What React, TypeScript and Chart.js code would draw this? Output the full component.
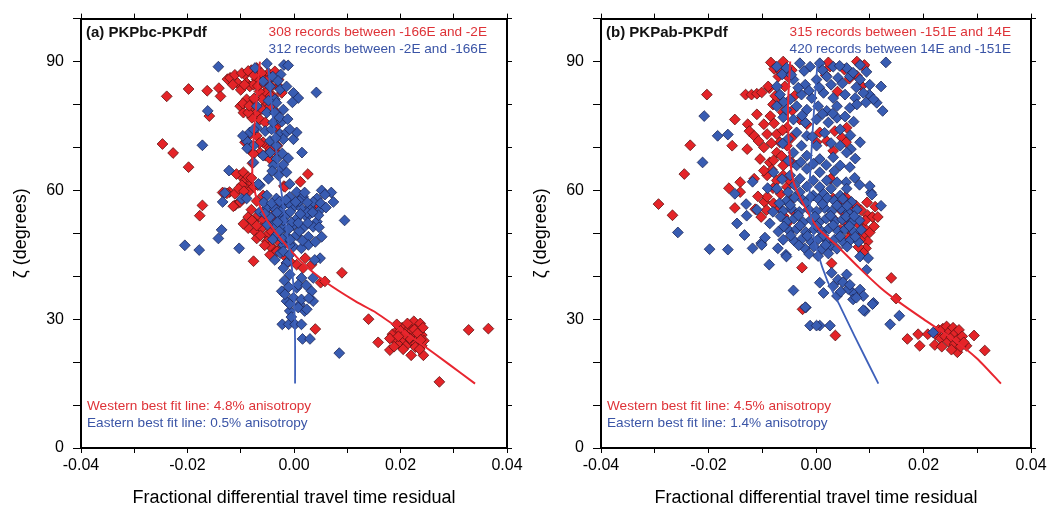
import React, { useEffect, useRef } from "react";
import { Chart, registerables } from "chart.js";
Chart.register(...registerables);

const FONT = '"Liberation Sans", Arial, Helvetica, sans-serif';

// ---------- tick labels ----------
const X_TICK_VALUES = [-0.04, -0.02, 0, 0.02, 0.04];
const X_TICK_LABELS = ["-0.04", "-0.02", "0.00", "0.02", "0.04"];
const Y_TICK_VALUES = [0, 30, 60, 90];
const Y_TICK_LABELS = ["0", "30", "60", "90"];

const X_TITLE = "Fractional differential travel time residual";
const Y_TITLE = "ζ (degrees)";

// ---------- panel (a) PKPbc-PKPdf ----------
const A_TITLE = "(a) PKPbc-PKPdf";
const A_WEST_LABEL = "308 records between -166E and -2E";
const A_EAST_LABEL = "312 records between -2E and -166E";
const A_WEST_FIT_LABEL = "Western best fit line: 4.8% anisotropy";
const A_EAST_FIT_LABEL = "Eastern best fit line: 0.5% anisotropy";

const A_WEST: [number, number][] = [
  [-0.0239, 81.9], [-0.0198, 83.6], [-0.0163, 83.2], [-0.0141, 83.8], [-0.0138, 81.9], [-0.0125, 85.9],
  [-0.0159, 77.3], [-0.0247, 70.8], [-0.0227, 68.7], [-0.0198, 65.4], [-0.0172, 56.5], [-0.0177, 54.1],
  [-0.0134, 59.5], [-0.0121, 59.6], [-0.0111, 56.5], [-0.0104, 57.1], [-0.0076, 43.5], [0.0026, 63.8],
  [0.0012, 62.0], [-0.0019, 61.0], [0.0090, 40.8], [0.0050, 38.5], [0.0040, 27.7], [0.0140, 30.0],
  [0.0158, 24.6], [0.0180, 22.8], [0.0220, 21.6], [0.0243, 21.6], [0.0273, 15.4], [0.0328, 27.5],
  [0.0365, 27.8], [0.0240, 23.8],
  [-0.0120, 86.2], [-0.0106, 85.0], [-0.0092, 86.9], [-0.0089, 85.0], [-0.0083, 84.2], [-0.0070, 85.8],
  [-0.0058, 86.5], [-0.0048, 87.3], [-0.0033, 86.2], [-0.0029, 84.2], [-0.0023, 82.7], [-0.0039, 81.9],
  [-0.0051, 80.4], [-0.0101, 79.6], [-0.0095, 78.1], [-0.0079, 79.6], [-0.0070, 78.1], [-0.0064, 76.5],
  [-0.0054, 75.8], [-0.0033, 75.0], [-0.0023, 72.7], [-0.0111, 86.9], [-0.0098, 87.3], [-0.0070, 88.5],
  [-0.0061, 87.3], [-0.0036, 87.7], [-0.0029, 85.8], [-0.0042, 84.2], [-0.0054, 82.7], [-0.0076, 84.6],
  [-0.0089, 81.2], [-0.0079, 76.9], [-0.0086, 78.1], [-0.0045, 79.6], [-0.0033, 78.1], [-0.0080, 88.0],
  [-0.0065, 83.0],
  [-0.0115, 84.6], [-0.0100, 83.4], [-0.0093, 84.6], [-0.0086, 87.8], [-0.0075, 86.8], [-0.0068, 84.3],
  [-0.0056, 84.8], [-0.0050, 85.6], [-0.0044, 82.0], [-0.0060, 81.3], [-0.0075, 81.4], [-0.0096, 80.2],
  [-0.0084, 79.7], [-0.0060, 78.9],
  [-0.0051, 70.4], [-0.0064, 68.8], [-0.0054, 68.1], [-0.0045, 67.3], [-0.0033, 68.8], [-0.0092, 71.2],
  [-0.0084, 69.6], [-0.0076, 68.5], [-0.0070, 72.7], [-0.0058, 71.2], [-0.0044, 69.6], [-0.0036, 74.6],
  [-0.0031, 70.4], [-0.0082, 73.1], [-0.0065, 71.0], [-0.0078, 66.3],
  [-0.0101, 63.5], [-0.0092, 62.3], [-0.0083, 61.5], [-0.0089, 60.4], [-0.0076, 60.8], [-0.0098, 61.2],
  [-0.0126, 59.3], [-0.0111, 59.2], [-0.0108, 63.8], [-0.0095, 64.2], [-0.0086, 63.1], [-0.0104, 60.4],
  [-0.0086, 59.6], [-0.0068, 61.2], [-0.0058, 58.8], [-0.0101, 57.3], [-0.0114, 56.3], [-0.0080, 62.9],
  [-0.0094, 59.8], [-0.0070, 57.5],
  [-0.0086, 53.8], [-0.0076, 52.7], [-0.0067, 54.2], [-0.0058, 53.1], [-0.0086, 51.2], [-0.0073, 50.4],
  [-0.0061, 51.2], [-0.0051, 49.6], [-0.0042, 50.4], [-0.0051, 48.1], [-0.0039, 46.5], [-0.0026, 47.7],
  [-0.0045, 45.0], [-0.0020, 45.0], [-0.0014, 43.1], [0.0005, 42.7], [0.0021, 44.2], [0.0033, 42.7],
  [-0.0051, 55.7], [-0.0033, 57.3], [-0.0017, 60.8], [0.0033, 55.7], [0.0043, 56.9], [-0.0039, 54.2],
  [-0.0008, 43.5], [0.0017, 41.9], [0.0058, 38.8], [-0.0045, 47.0], [-0.0080, 55.5], [-0.0070, 48.8],
  [-0.0079, 53.0], [-0.0070, 51.8], [-0.0063, 49.5], [-0.0055, 47.2], [-0.0032, 45.8], [-0.0095, 52.2],
  [0.0185, 26.5], [0.0190, 25.0], [0.0195, 27.5], [0.0198, 24.2], [0.0200, 26.0], [0.0203, 28.0],
  [0.0207, 25.2], [0.0210, 27.0], [0.0212, 24.0], [0.0215, 26.2], [0.0218, 28.5], [0.0220, 25.0],
  [0.0222, 27.3], [0.0225, 29.5], [0.0227, 26.0], [0.0229, 24.3], [0.0231, 28.0], [0.0233, 25.5],
  [0.0235, 27.0], [0.0237, 29.0], [0.0240, 26.3], [0.0242, 28.0], [0.0244, 25.0], [0.0205, 23.0],
  [0.0193, 28.8], [0.0213, 29.0], [0.0228, 23.5], [0.0180, 25.5], [0.0236, 23.0], [0.0188, 23.6],
  [0.0200, 27.3], [0.0217, 25.6], [0.0226, 27.6], [0.0232, 26.7], [0.0208, 26.5], [0.0196, 26.0],
  [0.0238, 25.2],
];

const A_EAST: [number, number][] = [
  [-0.0142, 88.8], [-0.0051, 89.5], [-0.0019, 89.2], [0.0042, 82.8], [-0.0162, 78.5], [-0.0172, 70.5],
  [-0.0122, 64.6], [-0.0134, 57.3], [-0.0136, 50.8], [-0.0142, 48.8], [-0.0205, 47.2], [-0.0178, 46.1],
  [-0.0103, 46.5], [0.0095, 53.0], [0.0052, 60.0], [0.0070, 59.5], [0.0085, 22.1], [0.0015, 68.8],
  [-0.0130, 59.4],
  [-0.0073, 88.5], [-0.0011, 89.1], [-0.0058, 85.4], [-0.0045, 84.2], [-0.0026, 83.5], [-0.0014, 84.2],
  [-0.0001, 82.7], [0.0008, 81.5], [-0.0003, 80.5], [-0.0036, 81.2], [-0.0070, 79.6], [-0.0051, 78.1],
  [-0.0036, 78.1], [-0.0083, 73.5], [-0.0070, 74.6], [-0.0054, 73.8], [-0.0042, 74.2], [-0.0026, 73.1],
  [-0.0014, 73.5], [-0.0001, 71.9], [0.0005, 73.5], [-0.0089, 71.5], [-0.0076, 70.4], [-0.0045, 71.5],
  [-0.0033, 70.4], [-0.0020, 71.9], [-0.0045, 68.8], [-0.0033, 67.3], [-0.0076, 66.5], [-0.0039, 65.8],
  [-0.0023, 65.0], [-0.0014, 64.2], [-0.0029, 63.5], [-0.0048, 62.7], [-0.0064, 61.2], [-0.0008, 61.5],
  [0.0005, 59.6], [-0.0033, 80.4], [-0.0020, 78.8], [-0.0039, 75.8], [-0.0023, 76.0], [-0.0008, 74.2],
  [-0.0020, 66.0], [-0.0096, 72.7], [-0.0088, 69.8], [-0.0076, 74.2], [-0.0058, 68.1], [-0.0067, 61.5],
  [-0.0098, 58.0], [-0.0025, 87.0], [-0.0040, 86.5],
  [-0.0030, 85.5], [-0.0048, 80.9], [-0.0027, 77.0], [-0.0012, 76.6], [-0.0034, 72.2], [-0.0022, 68.6],
  [-0.0011, 67.5], [-0.0041, 64.5],
  [-0.0089, 58.1], [-0.0051, 58.8], [-0.0033, 58.1], [-0.0008, 58.5], [0.0017, 58.5], [0.0043, 58.1],
  [0.0058, 59.0], [0.0074, 57.3], [-0.0051, 55.8], [-0.0036, 55.8], [-0.0020, 56.5], [-0.0001, 56.1],
  [0.0014, 55.8], [0.0030, 56.1], [0.0049, 55.4], [-0.0045, 53.8], [-0.0026, 53.4], [-0.0014, 54.2],
  [0.0005, 53.4], [0.0024, 53.8], [0.0043, 52.7], [-0.0039, 51.9], [-0.0020, 51.2], [-0.0001, 51.9],
  [0.0017, 51.2], [0.0036, 51.5], [-0.0033, 49.6], [-0.0014, 49.2], [0.0005, 49.6], [0.0027, 49.2],
  [0.0052, 49.2], [-0.0020, 47.3], [-0.0001, 46.9], [-0.0026, 45.4], [-0.0036, 43.8], [-0.0014, 43.1],
  [-0.0064, 55.0], [0.0036, 57.3], [0.0046, 54.2], [0.0027, 47.3], [0.0014, 46.5], [-0.0008, 47.3],
  [-0.0010, 57.0], [0.0010, 57.5], [-0.0025, 55.0], [0.0025, 54.8], [-0.0005, 52.5], [0.0010, 50.5],
  [-0.0028, 50.5], [0.0020, 59.5],
  [-0.0057, 57.2], [-0.0042, 57.0], [-0.0027, 57.4], [-0.0015, 57.8], [0.0003, 57.3], [0.0025, 57.2],
  [0.0050, 57.0], [-0.0055, 54.6], [-0.0032, 54.8], [-0.0020, 53.0], [-0.0007, 55.0], [0.0012, 54.5],
  [0.0035, 54.9], [0.0060, 56.0], [-0.0050, 52.0], [-0.0031, 52.6], [-0.0010, 51.0], [0.0008, 52.4],
  [0.0026, 52.4], [0.0047, 51.4], [-0.0040, 48.6], [-0.0022, 48.7], [-0.0007, 48.5], [0.0016, 48.3],
  [0.0040, 48.0],
  [-0.0008, 40.4], [0.0014, 39.6], [0.0036, 39.6], [0.0049, 44.2], [-0.0020, 41.9], [0.0033, 36.5],
  [-0.0023, 36.5], [-0.0014, 34.2], [-0.0001, 35.0], [0.0011, 33.5], [0.0020, 31.9], [-0.0008, 31.9],
  [-0.0020, 45.8], [-0.0008, 45.0], [0.0039, 43.8], [0.0005, 37.3], [-0.0017, 35.8], [0.0014, 34.6],
  [-0.0008, 33.5], [0.0008, 32.7], [0.0024, 32.3], [0.0036, 34.2], [-0.0022, 28.8], [-0.0010, 28.8],
  [0.0002, 28.8], [0.0014, 28.8], [0.0016, 25.4], [0.0030, 25.4], [0.0008, 38.0], [-0.0005, 30.5],
  [-0.0018, 39.0], [0.0023, 37.9], [-0.0010, 37.5], [0.0028, 34.9],
];

const A_WEST_FIT: [number, number][] = [
  [-0.0064, 90], [-0.0071, 80], [-0.0077, 70], [-0.0078, 63], [-0.0070, 58], [-0.0050, 53],
  [-0.0020, 48], [0.0015, 43.2], [0.0060, 38.6], [0.0115, 34.2], [0.0149, 31.9], [0.0200, 27.6],
  [0.0237, 24.4], [0.0290, 19.6], [0.0340, 15],
];
const A_EAST_FIT: [number, number][] = [
  [-0.0049, 90], [-0.0042, 80], [-0.0034, 70], [-0.0024, 60], [-0.0013, 50], [-0.0004, 42],
  [0.0000, 35], [0.0002, 25], [0.0002, 15],
];

// ---------- panel (b) PKPab-PKPdf ----------
const B_TITLE = "(b) PKPab-PKPdf";
const B_WEST_LABEL = "315 records between -151E and 14E";
const B_EAST_LABEL = "420 records between 14E and -151E";
const B_WEST_FIT_LABEL = "Western best fit line: 4.5% anisotropy";
const B_EAST_FIT_LABEL = "Eastern best fit line: 1.4% anisotropy";

const B_WEST: [number, number][] = [
  [-0.0203, 82.3], [-0.0234, 70.5], [-0.0245, 63.8], [-0.0293, 56.8], [-0.0267, 54.2], [-0.0162, 60.5],
  [-0.0151, 55.9], [-0.0141, 61.9], [-0.0156, 70.4], [-0.0151, 76.5], [-0.0131, 82.3], [-0.0120, 82.3],
  [-0.0110, 82.5], [-0.0101, 82.8], [-0.0087, 83.8], [-0.0128, 69.6], [-0.0102, 53.8], [-0.0096, 57.3],
  [-0.0084, 89.8], [-0.0070, 86.5], [-0.0061, 90.0], [-0.0025, 32.3], [-0.0026, 42.0], [0.0029, 43.0],
  [0.0036, 26.2], [0.0140, 39.6], [0.0149, 34.8], [0.0170, 25.4], [0.0190, 26.5], [0.0193, 23.8],
  [0.0208, 26.5], [0.0221, 24.0], [0.0263, 22.3], [0.0294, 26.2], [0.0314, 22.7], [0.0280, 23.8],
  [-0.0058, 84.2], [-0.0089, 84.2], [-0.0067, 80.4], [-0.0110, 77.7], [-0.0127, 75.4], [-0.0124, 73.8],
  [-0.0115, 72.7], [-0.0097, 75.4], [-0.0091, 73.1], [-0.0107, 71.5], [-0.0073, 73.1], [-0.0067, 71.2],
  [-0.0054, 74.6], [-0.0030, 76.5], [-0.0017, 75.4], [-0.0097, 70.0], [-0.0073, 68.8], [-0.0054, 70.4],
  [-0.0104, 67.3], [-0.0086, 66.5], [-0.0061, 65.8], [0.0007, 73.5], [0.0001, 71.2], [0.0020, 71.5],
  [0.0035, 73.8], [0.0057, 74.6], [0.0048, 72.3], [0.0032, 69.2], [-0.0115, 62.7], [-0.0082, 64.8],
  [-0.0091, 63.5], [-0.0073, 62.3], [-0.0061, 63.5], [-0.0141, 59.6], [-0.0091, 58.5], [-0.0054, 60.8],
  [0.0027, 62.7], [0.0032, 58.1], [0.0076, 90.0], [0.0088, 88.8], [0.0076, 86.7], [0.0026, 88.8],
  [0.0023, 89.8], [0.0053, 88.1], [0.0090, 89.2], [0.0056, 71.2], [-0.0045, 88.0], [-0.0080, 80.0],
  [-0.0040, 82.0],
  [-0.0078, 88.3], [-0.0066, 87.8], [-0.0052, 86.4], [-0.0076, 82.0], [-0.0062, 78.2], [-0.0085, 77.3],
  [-0.0044, 78.6], [-0.0078, 75.6], [-0.0062, 74.0], [-0.0083, 71.0], [-0.0046, 72.2], [-0.0079, 67.0],
  [-0.0064, 68.0], [-0.0045, 66.5], [-0.0097, 64.6], [-0.0050, 62.4], [-0.0080, 60.5], [-0.0066, 59.2],
  [-0.0046, 57.8], [-0.0108, 58.6], [-0.0079, 57.0], [-0.0060, 54.0], [-0.0113, 55.6], [-0.0044, 55.3],
  [0.0018, 86.8], [0.0062, 86.0], [0.0040, 83.0], [0.0085, 84.3],
  [0.0040, 57.0], [0.0065, 55.8], [0.0074, 56.5], [0.0084, 55.4], [0.0096, 54.2], [0.0105, 53.8],
  [0.0115, 53.8], [0.0062, 53.5], [0.0078, 52.3], [0.0090, 51.2], [0.0074, 49.6], [0.0087, 49.6],
  [0.0096, 48.1], [0.0065, 50.4], [0.0053, 52.7], [0.0031, 53.5], [0.0093, 46.5], [0.0082, 48.5],
  [0.0088, 45.5], [-0.0092, 55.4], [-0.0067, 55.8], [-0.0054, 52.3], [0.0055, 58.5],
  [0.0048, 55.2], [0.0058, 57.0], [0.0069, 54.1], [0.0092, 53.0], [0.0100, 50.2], [0.0108, 51.6],
  [0.0060, 48.8], [0.0079, 46.8], [0.0045, 50.8], [0.0095, 57.2], [0.0110, 56.2],
  [0.0222, 26.5], [0.0228, 27.5], [0.0232, 25.5], [0.0236, 27.8], [0.0240, 26.0], [0.0243, 28.3],
  [0.0246, 24.8], [0.0249, 27.2], [0.0252, 25.8], [0.0255, 28.0], [0.0258, 24.2], [0.0260, 26.8],
  [0.0263, 25.2], [0.0266, 27.5], [0.0269, 23.6], [0.0272, 26.0], [0.0275, 24.6], [0.0234, 23.6],
  [0.0252, 22.9],
];

const B_EAST: [number, number][] = [
  [-0.0208, 77.3], [-0.0211, 66.5], [-0.0183, 72.7], [-0.0164, 73.0], [-0.0151, 59.2], [-0.0130, 56.8],
  [-0.0147, 52.3], [-0.0133, 49.6], [-0.0257, 50.2], [-0.0198, 46.3], [-0.0164, 46.2], [-0.0118, 46.5],
  [-0.0102, 47.7], [-0.0087, 42.7], [-0.0071, 46.5], [-0.0056, 45.0], [-0.0042, 36.7], [-0.0019, 32.7],
  [0.0138, 28.8], [0.0155, 30.8], [0.0218, 26.9], [0.0130, 89.8], [0.0121, 84.2], [0.0124, 78.5],
  [0.0113, 80.4], [0.0099, 82.3], [0.0121, 56.4], [0.0102, 59.5], [0.0081, 61.3], [0.0056, 61.9],
  [0.0082, 71.2], [0.0065, 69.6], [-0.0129, 54.1], [-0.0101, 47.3], [-0.0055, 44.6], [-0.0086, 52.3],
  [-0.0070, 50.4], [-0.0061, 48.5], [-0.0110, 55.5], [-0.0095, 49.0], [-0.0080, 55.0], [-0.0090, 60.5],
  [-0.0118, 62.0],
  [-0.0073, 88.8], [-0.0055, 88.5], [-0.0030, 89.6], [-0.0011, 88.8], [0.0007, 89.6], [0.0032, 88.8],
  [0.0057, 88.5], [0.0082, 89.2], [-0.0073, 84.2], [-0.0042, 85.8], [-0.0020, 84.6], [0.0001, 85.8],
  [0.0020, 86.5], [0.0041, 86.2], [0.0063, 86.5], [0.0082, 85.8], [0.0100, 84.6], [-0.0067, 82.3],
  [-0.0048, 81.2], [-0.0027, 82.3], [-0.0008, 81.5], [0.0014, 82.7], [0.0032, 81.5], [0.0054, 82.3],
  [0.0073, 81.5], [0.0088, 82.7], [0.0107, 81.2], [-0.0073, 79.6], [-0.0055, 78.8], [-0.0036, 79.6],
  [-0.0017, 78.8], [0.0004, 79.6], [0.0020, 78.5], [0.0039, 79.6], [0.0063, 79.2], [0.0076, 80.0],
  [-0.0042, 76.5], [-0.0020, 75.8], [0.0001, 76.5], [0.0023, 75.8], [0.0039, 76.9], [-0.0036, 73.5],
  [-0.0017, 72.7], [0.0001, 70.4], [-0.0027, 70.4], [0.0045, 74.2], [0.0045, 70.4], [-0.0042, 68.8],
  [-0.0017, 68.1], [0.0007, 67.3], [0.0032, 67.7], [0.0057, 68.8], [0.0045, 65.8], [0.0063, 65.4],
  [-0.0036, 65.8], [-0.0017, 65.0], [0.0007, 64.2], [-0.0048, 63.5], [-0.0030, 62.7], [-0.0005, 62.3],
  [0.0020, 62.3], [0.0039, 61.9], [0.0100, 61.0], [-0.0079, 64.2], [-0.0073, 60.4], [-0.0052, 59.6],
  [-0.0030, 59.6], [-0.0005, 58.8], [0.0014, 59.2], [0.0045, 58.8], [0.0057, 60.4], [0.0104, 59.0],
  [-0.0063, 87.0], [-0.0046, 86.9], [-0.0022, 87.8], [0.0012, 88.0], [0.0044, 89.0], [0.0069, 87.4],
  [0.0094, 87.6], [-0.0060, 80.6], [-0.0033, 83.9], [-0.0013, 83.2], [0.0006, 84.0], [0.0028, 84.6],
  [0.0049, 84.9], [0.0075, 84.0], [0.0093, 80.5], [-0.0061, 77.0], [-0.0026, 77.4], [0.0012, 77.8],
  [0.0031, 77.9], [0.0054, 77.2], [0.0070, 76.0], [-0.0052, 72.0], [-0.0007, 72.5], [0.0016, 73.4],
  [0.0028, 71.0], [0.0064, 72.8], [-0.0062, 70.9], [-0.0051, 66.9], [-0.0028, 66.6], [-0.0005, 66.2],
  [0.0019, 65.9], [0.0034, 64.5], [0.0073, 67.4], [-0.0063, 62.6], [-0.0040, 61.2], [-0.0017, 60.9],
  [0.0007, 60.8], [0.0028, 60.4], [0.0072, 62.9],
  [-0.0055, 57.5], [-0.0040, 58.3], [-0.0025, 57.8], [-0.0010, 58.4], [0.0005, 57.9], [0.0021, 58.2],
  [0.0034, 57.6], [0.0050, 58.0], [0.0066, 57.3], [-0.0061, 55.2], [-0.0046, 55.8], [-0.0031, 55.0],
  [-0.0014, 55.6], [0.0001, 55.1], [0.0016, 55.9], [0.0029, 55.1], [0.0046, 55.7], [0.0060, 54.9],
  [0.0076, 55.5], [-0.0054, 52.8], [-0.0041, 53.4], [-0.0024, 52.6], [-0.0009, 53.2], [0.0006, 52.6],
  [0.0019, 53.4], [0.0036, 52.8], [0.0049, 53.2], [0.0066, 52.5], [0.0081, 53.0], [-0.0049, 50.5],
  [-0.0036, 51.0], [-0.0019, 50.3], [-0.0004, 50.9], [0.0011, 50.4], [0.0024, 51.1], [0.0041, 50.5],
  [0.0054, 50.9], [0.0071, 50.3], [0.0084, 50.8], [-0.0041, 48.3], [-0.0026, 48.7], [-0.0009, 48.0],
  [0.0004, 48.6], [0.0021, 48.1], [0.0034, 48.5], [0.0051, 47.9], [0.0064, 48.4], [0.0079, 48.0],
  [-0.0021, 46.5], [-0.0004, 46.9], [0.0011, 46.3], [0.0026, 46.8], [0.0039, 46.4],
  [-0.0068, 57.0], [-0.0048, 56.6], [-0.0019, 57.1], [0.0012, 56.8], [0.0039, 56.5], [0.0058, 56.4],
  [-0.0066, 53.9], [-0.0033, 54.2], [-0.0002, 53.9], [0.0027, 54.1], [0.0056, 53.9], [0.0071, 54.0],
  [-0.0060, 51.6], [-0.0030, 51.8], [0.0001, 51.7], [0.0032, 51.9], [0.0062, 51.7], [-0.0047, 49.5],
  [-0.0016, 49.4], [0.0014, 49.5], [0.0045, 49.3], [0.0073, 49.2], [-0.0032, 47.2], [0.0018, 47.3],
  [0.0058, 46.9], [-0.0013, 45.2], [0.0004, 44.7], [0.0023, 45.3],
  [-0.0011, 28.5], [0.0007, 28.5], [0.0026, 28.5], [0.0001, 28.5], [0.0029, 40.8], [0.0041, 39.2],
  [0.0057, 40.4], [0.0007, 38.5], [0.0014, 36.1], [0.0032, 37.7], [0.0039, 35.4], [0.0069, 36.1],
  [0.0082, 36.9], [0.0088, 35.4], [0.0069, 34.6], [0.0107, 33.8], [0.0091, 31.9], [0.0082, 44.6],
  [0.0097, 44.2], [0.0094, 41.5], [0.0088, 32.1], [0.0105, 33.5], [-0.0020, 32.8], [0.0060, 37.0],
  [0.0050, 38.6], [0.0075, 35.0], [0.0063, 38.0], [0.0046, 36.4],
];

const B_WEST_FIT: [number, number][] = [
  [-0.0048, 90], [-0.0052, 80], [-0.0050, 70], [-0.0042, 62], [-0.0020, 56], [0.0005, 51],
  [0.0040, 47], [0.0080, 42], [0.0121, 37.2], [0.0152, 34.2], [0.0200, 30], [0.0250, 25.8],
  [0.0300, 20.8], [0.0344, 15],
];
const B_EAST_FIT: [number, number][] = [
  [0.0003, 90], [-0.0003, 80], [-0.0008, 70], [-0.0012, 60], [-0.0008, 52], [0.0002, 46],
  [0.0021, 39], [0.0045, 33], [0.0072, 26], [0.0116, 15],
];

// ---------- colours ----------
const RED_FILL = "rgb(228, 36, 40)";
const RED_EDGE = "rgb(95, 18, 18)";
const BLUE_FILL = "rgb(56, 92, 178)";
const BLUE_EDGE = "rgb(28, 38, 88)";
const RED_LINE = "rgb(232, 38, 48)";
const BLUE_LINE = "rgb(62, 96, 186)";
const RED_TEXT = "rgb(222, 50, 55)";
const BLUE_TEXT = "rgb(58, 84, 166)";

const toXY = (arr: [number, number][]) => arr.map(([x, y]) => ({ x, y }));

const textPlugin = {
  id: "panelText",
  afterDraw(chart: any, _args: any, opts: any) {
    const { ctx, chartArea: a } = chart;
    ctx.save();
    ctx.textBaseline = "middle";
    ctx.textAlign = "left";
    ctx.fillStyle = "#111";
    ctx.font = `bold 15px ${FONT}`;
    ctx.fillText(opts.title, a.left + 5, a.top + 14);
    ctx.font = `13.6px ${FONT}`;
    ctx.textAlign = "right";
    ctx.fillStyle = RED_TEXT;
    ctx.fillText(opts.west, a.right - 20, a.top + 14);
    ctx.fillStyle = BLUE_TEXT;
    ctx.fillText(opts.east, a.right - 20, a.top + 31);
    ctx.textAlign = "left";
    ctx.fillStyle = RED_TEXT;
    ctx.fillText(opts.westFit, a.left + 6, a.bottom - 42);
    ctx.fillStyle = BLUE_TEXT;
    ctx.fillText(opts.eastFit, a.left + 6, a.bottom - 25);
    ctx.restore();
  },
};

function labelFor(values: number[], labels: string[], v: number) {
  const i = values.findIndex((t) => Math.abs(t - v) < 1e-7);
  return i >= 0 ? labels[i] : "";
}

type PanelProps = {
  left: number;
  width: number;
  padRight: number;
  west: [number, number][];
  east: [number, number][];
  westFit: [number, number][];
  eastFit: [number, number][];
  text: { title: string; west: string; east: string; westFit: string; eastFit: string };
};

function Panel(p: PanelProps) {
  const ref = useRef<HTMLCanvasElement>(null);
  useEffect(() => {
    if (!ref.current) return;
    const grid = { drawOnChartArea: false, drawTicks: true, color: "#000", lineWidth: 1 };
    const border = { display: true, color: "#000", width: 2 };
    const chart = new Chart(ref.current, {
      type: "scatter",
      data: {
        datasets: [
          {
            data: toXY(p.west), order: 3, pointStyle: "rectRot", pointRadius: 5.4,
            backgroundColor: RED_FILL, borderColor: RED_EDGE, borderWidth: 0.8,
          },
          {
            data: toXY(p.east), order: 2, pointStyle: "rectRot", pointRadius: 5.4,
            backgroundColor: BLUE_FILL, borderColor: BLUE_EDGE, borderWidth: 0.8,
          },
          {
            data: toXY(p.westFit), order: 1, showLine: true, pointRadius: 0, borderColor: RED_LINE,
            borderWidth: 2, tension: 0.2, fill: false,
          },
          {
            data: toXY(p.eastFit), order: 0, showLine: true, pointRadius: 0, borderColor: BLUE_LINE,
            borderWidth: 1.8, tension: 0.2, fill: false,
          },
        ] as any,
      },
      options: {
        responsive: false,
        maintainAspectRatio: false,
        animation: false,
        devicePixelRatio: 1,
        layout: { padding: { left: 0, right: p.padRight, top: 10, bottom: 0 } },
        plugins: {
          legend: { display: false },
          tooltip: { enabled: false },
          panelText: p.text,
        } as any,
        scales: {
          x: {
            type: "linear", position: "bottom", min: -0.04, max: 0.04,
            ticks: {
              stepSize: 0.01, autoSkip: false, maxRotation: 0, padding: 3, color: "#000",
              font: { family: FONT, size: 16 },
              callback: (v: any) => labelFor(X_TICK_VALUES, X_TICK_LABELS, Number(v)),
            },
            grid: { ...grid, tickLength: 5 },
            border,
            title: {
              display: true, text: X_TITLE, color: "#000",
              font: { family: FONT, size: 18 }, padding: { top: 2, bottom: 1 },
            },
            afterFit: (s: any) => { s.height = 62; },
          },
          x2: {
            type: "linear", position: "top", min: -0.04, max: 0.04,
            ticks: { stepSize: 0.01, display: false },
            grid: { ...grid, tickLength: 5 },
            border,
            afterFit: (s: any) => { s.height = 5; },
          },
          y: {
            type: "linear", position: "left", min: 0, max: 100,
            ticks: {
              stepSize: 10, autoSkip: false, padding: 9, color: "#000",
              font: { family: FONT, size: 16 },
              callback: (v: any) => labelFor(Y_TICK_VALUES, Y_TICK_LABELS, Number(v)),
            },
            grid: { ...grid, tickLength: 8 },
            border,
            title: {
              display: true, text: Y_TITLE, color: "#000",
              font: { family: FONT, size: 18 }, padding: { top: 10, bottom: 0 },
            },
            afterFit: (s: any) => { s.width = 81; },
          },
          y2: {
            type: "linear", position: "right", min: 0, max: 100,
            ticks: { stepSize: 10, display: false },
            grid: { ...grid, tickLength: 5 },
            border,
            afterFit: (s: any) => { s.width = 5; },
          },
        } as any,
      },
      plugins: [textPlugin as any],
    });
    return () => chart.destroy();
  }, []);
  return (
    <canvas
      ref={ref}
      width={p.width}
      height={510}
      style={{ position: "absolute", left: p.left, top: 0, width: p.width, height: 510 }}
    />
  );
}

export default function App() {
  return (
    <div style={{ position: "absolute", left: 0, top: 0, width: 1055, height: 510, background: "#fff" }}>
      <Panel
        left={0} width={527} padRight={15}
        west={A_WEST} east={A_EAST} westFit={A_WEST_FIT} eastFit={A_EAST_FIT}
        text={{ title: A_TITLE, west: A_WEST_LABEL, east: A_EAST_LABEL, westFit: A_WEST_FIT_LABEL, eastFit: A_EAST_FIT_LABEL }}
      />
      <Panel
        left={520} width={535} padRight={19}
        west={B_WEST} east={B_EAST} westFit={B_WEST_FIT} eastFit={B_EAST_FIT}
        text={{ title: B_TITLE, west: B_WEST_LABEL, east: B_EAST_LABEL, westFit: B_WEST_FIT_LABEL, eastFit: B_EAST_FIT_LABEL }}
      />
    </div>
  );
}
